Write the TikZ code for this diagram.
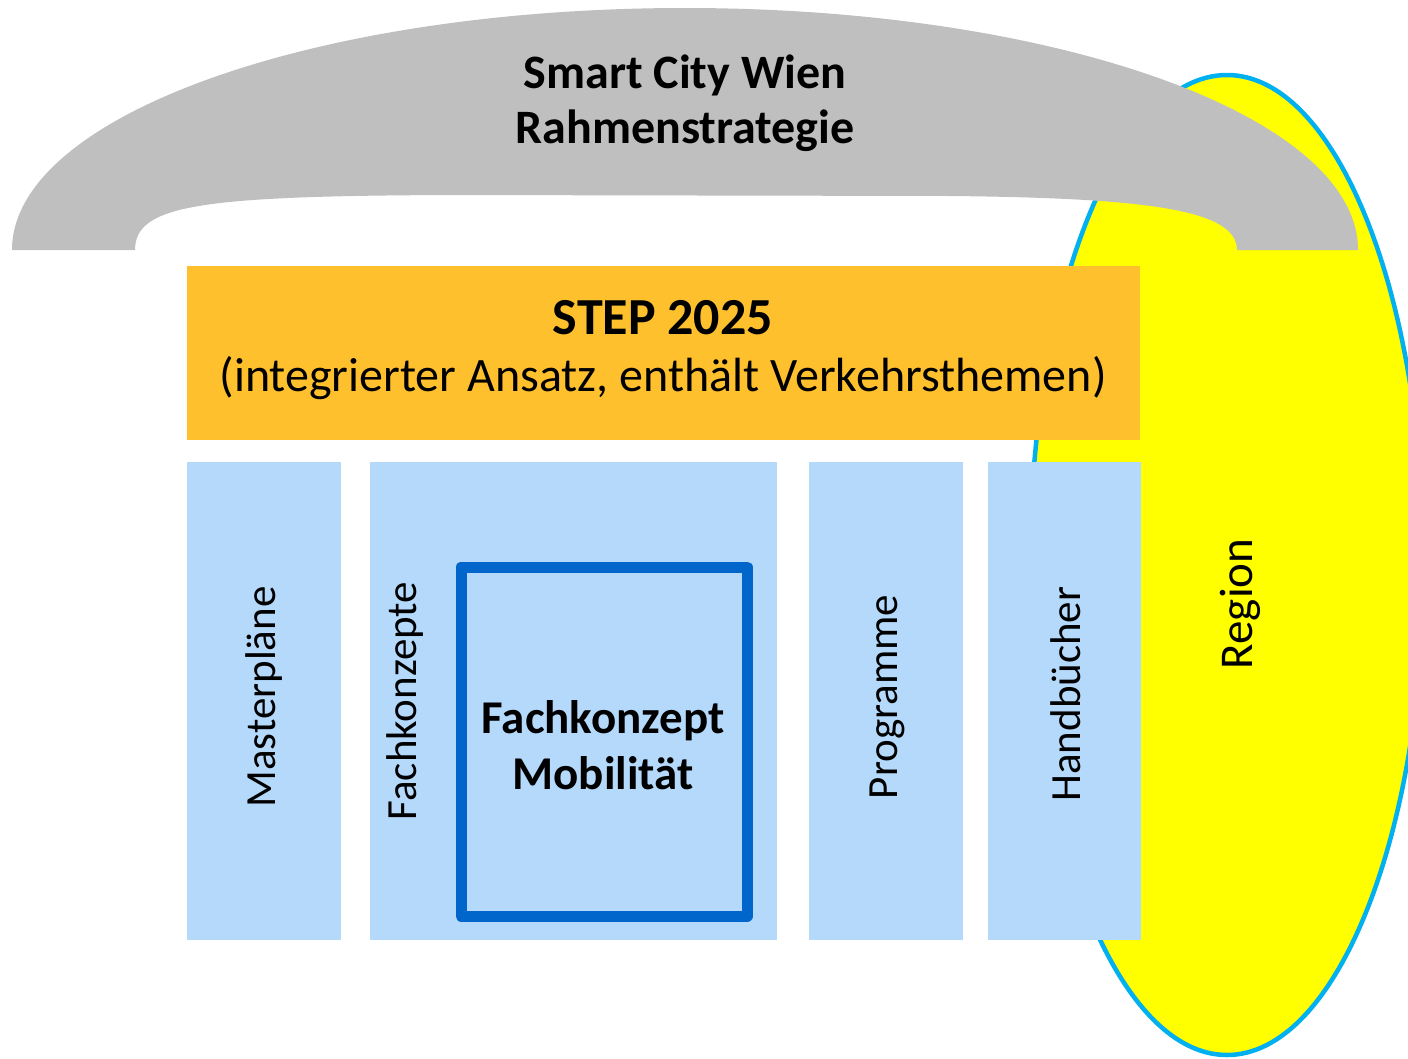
\documentclass[tikz,border=0pt]{standalone}
\usepackage{fontspec}
\setmainfont{Carlito}
\definecolor{archgray}{HTML}{BFBFBF}
\definecolor{stepor}{HTML}{FFC02D}
\definecolor{boxblue}{HTML}{B4D9FB}
\definecolor{frameblue}{HTML}{0066CC}
\definecolor{regyellow}{HTML}{FFFF00}
\definecolor{regline}{HTML}{00B0F0}
\begin{document}
\begin{tikzpicture}[x=1pt,y=-1pt,
  reg/.style={font=\fontsize{43}{52}\selectfont, inner sep=0pt},
  bld/.style={font=\fontsize{47}{56}\selectfont\bfseries, inner sep=0pt, align=center},
  colbox/.style={fill=boxblue, draw=none}]
\useasboundingbox (0,0) rectangle (1408,1058);
% Region ellipse
\draw[fill=regyellow, draw=regline, line width=4.5pt] (1227,565) ellipse [x radius=197, y radius=490];
\node[reg, font=\fontsize{47}{56}\selectfont, rotate=90] (region) at (1240,604) {Region};
% arch
\fill[archgray] (12,250) arc[start angle=180, end angle=360, x radius=673, y radius=242]
  -- (1237,250) .. controls (1237,210) and (1150,198) .. (950,196)
  -- (450,195) .. controls (200,196) and (135,205) .. (135,250) -- cycle;
\node[bld, font=\fontsize{48}{56}\selectfont\bfseries] (sc1) at (685,75) {Smart City Wien};
\node[bld, font=\fontsize{48}{56}\selectfont\bfseries] (sc2) at (685,131) {Rahmenstrategie};
% STEP
\fill[stepor] (187,266) rectangle (1140,440);
\node[bld, font=\fontsize{52}{56}\selectfont\bfseries] (step) at (663,318) {STEP 2025};
\node[reg, font=\fontsize{48}{56}\selectfont] (stepsub) at (663,378) {(integrierter Ansatz, enthält Verkehrsthemen)};
% columns
\fill[colbox] (187,462) rectangle (341,940);
\fill[colbox] (370,462) rectangle (777,940);
\fill[colbox] (809,462) rectangle (963,940);
\fill[colbox] (988,462) rectangle (1141,940);
\node[reg, rotate=90] (mp) at (264,697) {Masterpläne};
\node[reg, rotate=90] (fk) at (405,701) {Fachkonzepte};
\node[reg, rotate=90] (pg) at (887,697) {Programme};
\node[reg, rotate=90] (hb) at (1066,694) {Handbücher};
\draw[frameblue, line width=11pt, line join=round] (461,567) rectangle (747,916);
\node[bld] (fm) at (603,745) {Fachkonzept\\Mobilität};
\end{tikzpicture}
\end{document}
